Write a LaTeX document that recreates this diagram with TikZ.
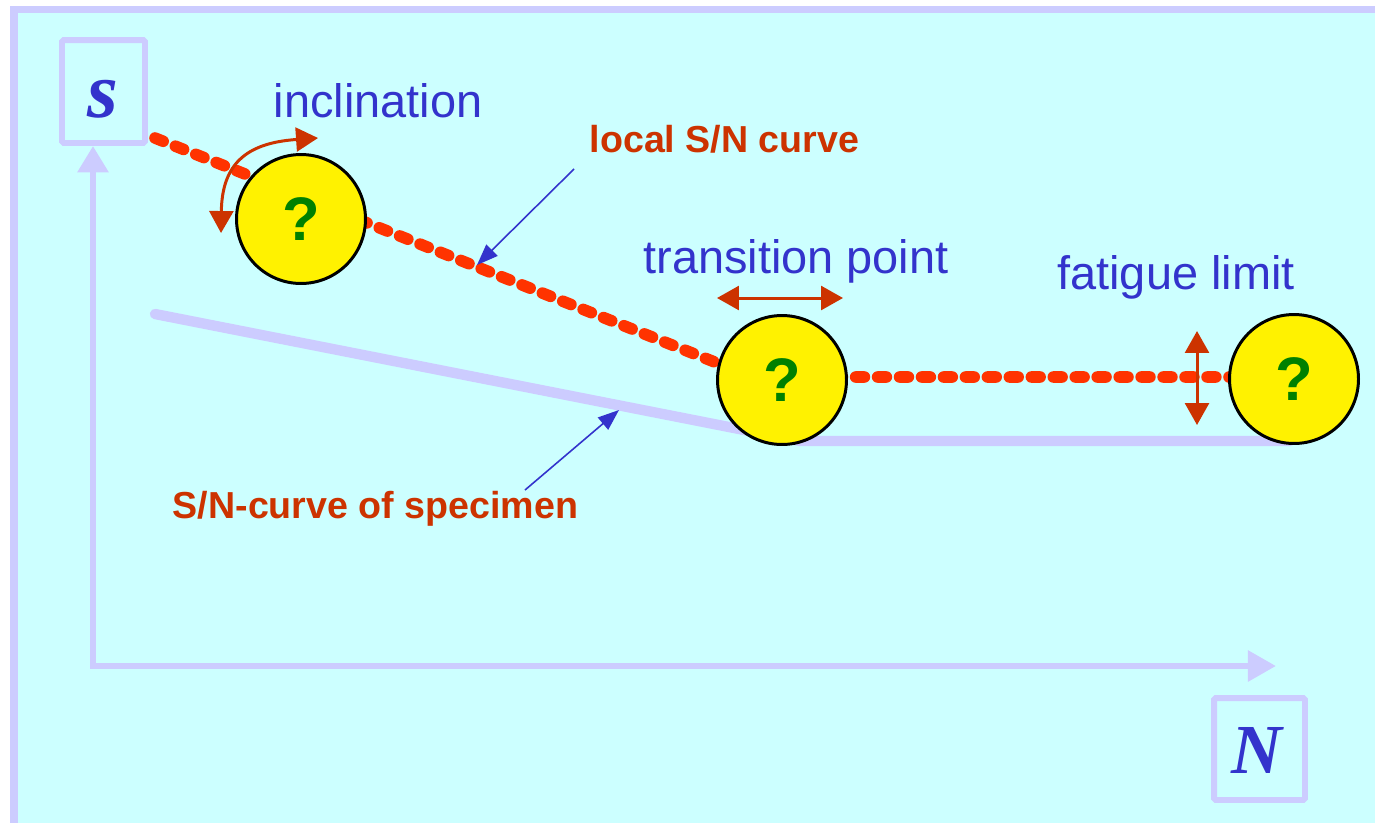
\documentclass[tikz,border=0pt]{standalone}
\usepackage{fontspec}
\setmainfont{Liberation Sans}
\newfontfamily\timesbi{Liberation Serif}
\usetikzlibrary{arrows.meta}
\definecolor{bgcyan}{HTML}{CCFFFF}
\definecolor{lav}{HTML}{CCCCFF}
\definecolor{txtblue}{HTML}{3333CC}
\definecolor{dashred}{HTML}{FF3300}
\definecolor{arrred}{HTML}{CC3300}
\definecolor{qgreen}{HTML}{008000}
\begin{document}
\begin{tikzpicture}[x=0.02cm,y=-0.02cm,
  axisline/.style={draw=lav,line width=3.6pt,line join=miter},
  axbox/.style={draw=lav,line width=3.4pt,inner sep=0pt,rounded corners=1pt},
  axletter/.style={text=txtblue,inner sep=0pt,anchor=base,font=\timesbi\bfseries\itshape\fontsize{40}{46}\selectfont},
  speccurve/.style={draw=lav,line width=5.9pt,line cap=round,line join=round},
  localcurve/.style={draw=dashred,line width=6.6pt,line cap=round,dash pattern=on 5pt off 7.5pt},
  qcircle/.style={circle,draw=black,line width=1.7pt,fill=yellow,minimum size=2.58cm,inner sep=0pt,
     text=qgreen,font=\bfseries\fontsize{35}{40}\selectfont},
  bluelabel/.style={text=txtblue,inner sep=0pt,anchor=base,font=\fontsize{26.7}{32}\selectfont},
  redlabel/.style={text=arrred,inner sep=0pt,anchor=base,font=\bfseries\fontsize{21.4}{26}\selectfont},
  redarrow/.style={draw=arrred,line width=1.7pt,{Triangle[length=12.5pt,width=13.6pt]}-{Triangle[length=12.5pt,width=13.6pt]}},
  pointer/.style={draw=txtblue,line width=0.9pt,-{Triangle[length=12pt,width=9pt]}}
]
\path[use as bounding box] (0,0) rectangle (1375,822);
\clip (0,0) rectangle (1375,822);
\fill[white] (0,0) rectangle (1375,822);
\draw[line width=4pt,draw=lav,fill=bgcyan] (14,9.5) rectangle (1420,870);

% specimen S/N curve
\coordinate (sp0) at (155,314);
\coordinate (sp1) at (800,441);
\coordinate (sp2) at (1290,441);
\draw[speccurve] (sp0) -- (sp1) -- (sp2);

% local S/N curve
\coordinate (lc0) at (155,138);
\coordinate (lc1) at (752,377);
\coordinate (lc2) at (1250,377);
\draw[localcurve] (lc0) -- (lc1) -- (lc2);

% axes
\node[axbox,minimum width=1.66cm,minimum height=2.06cm] (sbox) at (103.5,91.5) {};
\node[axbox,minimum width=1.82cm,minimum height=2.04cm] (nbox) at (1259.5,749) {};
\node[axletter,font=\timesbi\bfseries\itshape\fontsize{45}{50}\selectfont] (sletter) at (103,117) {s};
\node[axletter] (nletter) at (1257,773) {N};
\coordinate (ytip) at (93,146);
\coordinate (xtip) at (1276,666);
\draw[axisline,{Triangle[length=15pt,width=17pt]}-{Triangle[length=16pt,width=17pt]}] (ytip) |- (xtip);

% circles
\node[qcircle] (c1) at (301,219) {?};
\node[qcircle] (c2) at (782,380) {?};
\node[qcircle] (c3) at (1294,379) {?};

% red double arrows
\coordinate (ia) at (221,233);
\coordinate (ib) at (318,138);
\draw[redarrow] (ia) .. controls (222,165) and (245,143) .. (ib);
\coordinate (ta) at (717,298);
\coordinate (tb) at (843,298);
\draw[redarrow] (ta) -- (tb);
\coordinate (fa) at (1197,331);
\coordinate (fb) at (1197,425);
\draw[redarrow] (fa) -- (fb);

% labels
\node[bluelabel] (incl) at (378,117) {inclination};
\node[bluelabel] (trans) at (796,273) {transition point};
\node[bluelabel] (fatig) at (1176,289) {fatigue limit};
\node[redlabel] (local) at (724.5,152) {local S/N curve};
\node[redlabel] (spec) at (375.5,518) {S/N-curve of specimen};

% pointers
\coordinate (p1s) at (574,169);
\coordinate (p1e) at (477,265);
\draw[pointer] (p1s) -- (p1e);
\coordinate (p2s) at (525,490);
\coordinate (p2e) at (619,410);
\draw[pointer] (p2s) -- (p2e);
\end{tikzpicture}
\end{document}
